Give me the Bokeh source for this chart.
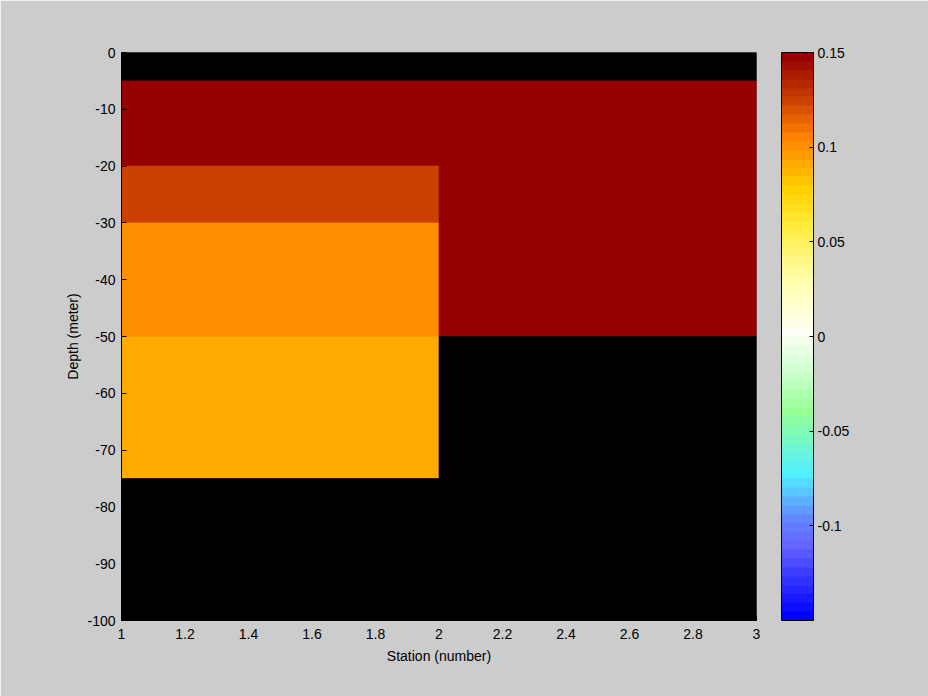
import numpy as np
from bokeh.plotting import figure
from bokeh.models import (ColumnDataSource, LinearColorMapper, ColorBar, FixedTicker,
                          CustomJSTickFormatter, Range1d)
from bokeh.embed import file_html
from bokeh.resources import INLINE

# ---- data ----
station_edges = [1, 2, 3]
depth_edges = [0, -5, -20, -30, -50, -75, -100]
# values per depth cell (top to bottom), NaN = no data (drawn black)
station1_values = [np.nan, 0.15, 0.125, 0.102, 0.093, np.nan]
station2_values = [np.nan, 0.15, 0.15, 0.15, np.nan, np.nan]
x_ticks = [1, 1.2, 1.4, 1.6, 1.8, 2, 2.2, 2.4, 2.6, 2.8, 3]
y_ticks = [0, -10, -20, -30, -40, -50, -60, -70, -80, -90, -100]
cbar_ticks = [-0.1, -0.05, 0, 0.05, 0.1, 0.15]
clim = (-0.15, 0.15)

# ---- palette (64 levels, blue -> white -> dark red) ----
anchors = [
    (0, (0, 0, 255)), (8, (100, 100, 255)), (11, (100, 135, 255)),
    (16, (80, 240, 255)), (23, (150, 255, 150)), (28, (210, 255, 210)),
    (32, (255, 255, 245)), (38, (255, 255, 170)), (44, (255, 235, 60)),
    (48, (255, 210, 0)), (54, (255, 130, 0)), (58, (205, 65, 0)),
    (63, (150, 0, 0)),
]
idx = [a[0] for a in anchors]
palette = []
for i in range(64):
    rgb = [int(round(np.interp(i, idx, [a[1][c] for a in anchors]))) for c in range(3)]
    palette.append("#%02x%02x%02x" % tuple(rgb))

mapper = LinearColorMapper(palette=palette, low=clim[0], high=clim[1], nan_color="black")

# ---- cells ----
lefts, rights, tops, bottoms, vals = [], [], [], [], []
for j, col in enumerate([station1_values, station2_values]):
    for i, v in enumerate(col):
        lefts.append(station_edges[j]); rights.append(station_edges[j + 1])
        tops.append(depth_edges[i]); bottoms.append(depth_edges[i + 1])
        vals.append(v)
src = ColumnDataSource(dict(left=lefts, right=rights, top=tops, bottom=bottoms, val=vals))

BG = "#cccccc"
FONT = "Liberation Sans"
FS = "14px"

p = figure(frame_width=635, frame_height=568, output_backend="svg", toolbar_location=None,
           x_range=Range1d(1, 3), y_range=Range1d(-100, 0),
           min_border_left=121, min_border_top=52, min_border_bottom=76, min_border_right=172)
p.background_fill_color = "black"
p.border_fill_color = BG
p.outline_line_color = None
p.grid.visible = False

p.quad(left="left", right="right", top="top", bottom="bottom", source=src,
       fill_color={"field": "val", "transform": mapper},
       line_color={"field": "val", "transform": mapper}, line_width=0.6)

p.xaxis.ticker = FixedTicker(ticks=x_ticks)
p.yaxis.ticker = FixedTicker(ticks=y_ticks)
p.xaxis.formatter = CustomJSTickFormatter(code="return String(Math.round(tick*10)/10);")
p.yaxis.formatter = CustomJSTickFormatter(code="return String(Math.round(tick));")
for ax in (p.xaxis[0], p.yaxis[0]):
    ax.major_tick_in = 5
    ax.major_tick_out = 0
    ax.minor_tick_line_color = None
    ax.axis_line_color = "black"
    ax.major_tick_line_color = "black"
    ax.major_label_text_font = FONT
    ax.major_label_text_font_size = FS
    ax.major_label_text_color = "black"
    ax.axis_label_text_font = FONT
    ax.axis_label_text_font_size = FS
    ax.axis_label_text_font_style = "normal"
    ax.axis_label_text_color = "black"
p.xaxis.axis_label = "Station (number)"
p.yaxis.axis_label = "Depth (meter)"
p.xaxis.major_label_standoff = 8
p.yaxis.major_label_standoff = 6
p.xaxis.axis_label_standoff = 6
p.yaxis.axis_label_standoff = 3

cb = ColorBar(color_mapper=mapper, width=32, height=568, padding=0, margin=0,
              location=(25, 0),
              ticker=FixedTicker(ticks=cbar_ticks),
              formatter=CustomJSTickFormatter(code="return String(Math.round(tick*100)/100);"),
              bar_line_color="black", border_line_color=None,
              background_fill_color=None,
              major_tick_line_color="black", major_tick_in=4, major_tick_out=0,
              minor_tick_line_color=None,
              label_standoff=4,
              major_label_text_font=FONT, major_label_text_font_size=FS,
              major_label_text_color="black")
p.add_layout(cb, "right")

open("out.html", "w").write(file_html(p, INLINE))
